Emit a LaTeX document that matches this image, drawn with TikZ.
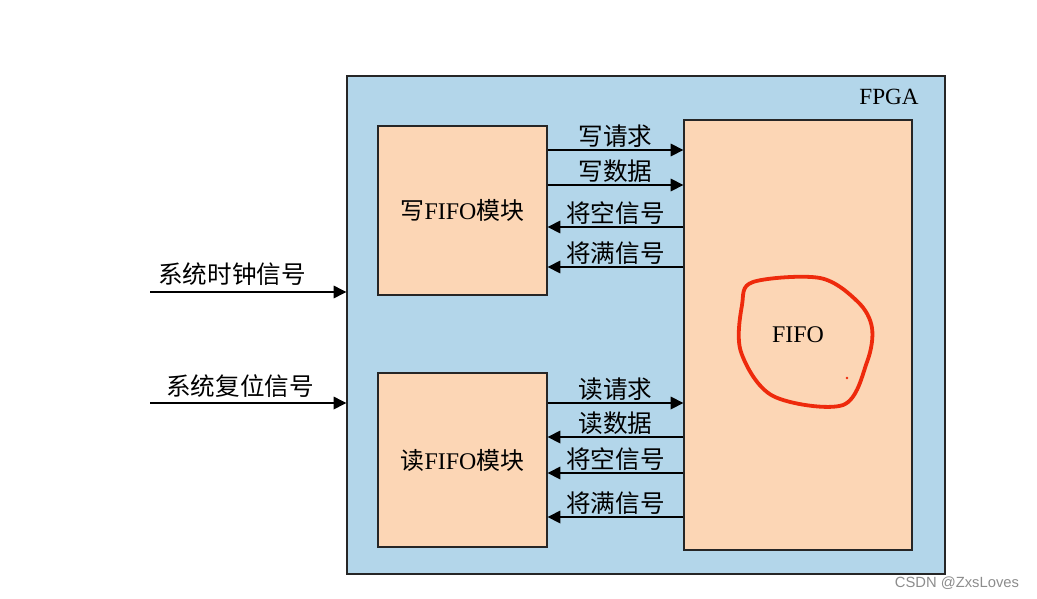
\documentclass[tikz,border=0pt]{standalone}
\usepackage{fontspec}
\setmainfont{Liberation Serif}
\newfontfamily\cjk{Noto Sans CJK SC}
\newfontfamily\marksans{Liberation Sans}
\usetikzlibrary{arrows.meta}
\definecolor{fpgablue}{RGB}{179,214,234}
\definecolor{peach}{RGB}{252,214,181}
\definecolor{penred}{RGB}{238,42,12}
\begin{document}
\begin{tikzpicture}[
        x=0.025cm, y=-0.025cm,
        chip/.style={rectangle, draw=black!85, line width=0.9pt, fill=fpgablue, minimum width=14.95cm, minimum height=12.45cm},
        module/.style={rectangle, draw=black!85, line width=0.9pt, fill=peach, minimum width=4.225cm, font=\fontsize{17}{19}\selectfont},
        fifo_box/.style={rectangle, draw=black!85, line width=0.9pt, fill=peach, minimum width=5.7cm, minimum height=10.75cm, font=\fontsize{17}{19}\selectfont},
        sig/.style={line width=0.9pt, -{Triangle[length=9pt, width=9pt]}},
        sig_label/.style={font=\cjk\fontsize{17.5}{19}\selectfont, midway, above, inner sep=1.5pt}
    ]
        \useasboundingbox (0,0) rectangle (1037,598);

        % FPGA outline
        \node[chip] (fpga) at (646,325) {};
        \node[font=\fontsize{16.5}{18}\selectfont] (fpga_name) at (889,97) {FPGA};

        % Modules
        \node[module, minimum height=4.225cm] (wr) at (462.5,210.5) {{\cjk 写}FIFO{\cjk 模块}};
        \node[module, minimum height=4.35cm] (rd) at (462.5,460) {{\cjk 读}FIFO{\cjk 模块}};
        \node[fifo_box] (fifo) at (798,335) {FIFO};

        % Write side signals
        \draw[sig] (wr.east |- 0,150) -- (fifo.west |- 0,150) node[sig_label] {写请求};
        \draw[sig] (wr.east |- 0,185) -- (fifo.west |- 0,185) node[sig_label] {写数据};
        \draw[sig] (fifo.west |- 0,227) -- (wr.east |- 0,227) node[sig_label] {将空信号};
        \draw[sig] (fifo.west |- 0,267) -- (wr.east |- 0,267) node[sig_label] {将满信号};

        % Read side signals
        \draw[sig] (rd.east |- 0,403) -- (fifo.west |- 0,403) node[sig_label] {读请求};
        \draw[sig] (fifo.west |- 0,437) -- (rd.east |- 0,437) node[sig_label] {读数据};
        \draw[sig] (fifo.west |- 0,473) -- (rd.east |- 0,473) node[sig_label] {将空信号};
        \draw[sig] (fifo.west |- 0,517) -- (rd.east |- 0,517) node[sig_label] {将满信号};

        % System inputs
        \coordinate (clk_in) at (150,292);
        \coordinate (rst_in) at (150,403);
        \draw[sig] (clk_in) -- (fpga.west |- clk_in);
        \draw[sig] (rst_in) -- (fpga.west |- rst_in);
        \node[font=\cjk\fontsize{17.5}{19}\selectfont] (clk_label) at (232,274) {系统时钟信号};
        \node[font=\cjk\fontsize{17.5}{19}\selectfont] (rst_label) at (240,386) {系统复位信号};

        % Hand-drawn red mark round FIFO
        \draw[penred, line width=2.7pt, line cap=round, line join=round]
            plot[smooth cycle, tension=0.55] coordinates {(753,282) (820,278) (858,302) (872,328) (867,362) (843,405) (773,396) (741,352) (742,305)};
        \fill[penred] (847,378) circle (1.3);

        % Watermark
        \node[anchor=east, font=\marksans\fontsize{10.5}{12}\selectfont, text=black!45] (mark) at (1024,583) {CSDN @ZxsLoves};

    \end{tikzpicture}
\end{document}
